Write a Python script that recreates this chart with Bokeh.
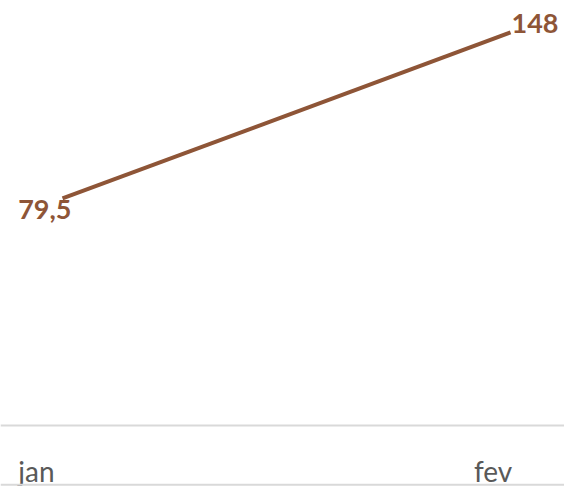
from bokeh.plotting import figure
from bokeh.models import ColumnDataSource, Range1d, Span
from bokeh.core.properties import value
from bokeh.embed import file_html
from bokeh.resources import INLINE

# data
months = ["jan", "fev"]
values = [79.5, 148]
value_labels = ["79,5", "148"]

xs = list(range(len(months)))

W, H = 564, 486
p = figure(width=W, height=H, output_backend="svg", toolbar_location=None,
           x_range=Range1d(-0.1384, 1.1205), y_range=Range1d(-39.35, 161.2),
           min_border=0, min_border_left=0, min_border_right=0,
           min_border_top=0, min_border_bottom=0)
p.axis.visible = False
p.grid.visible = False
p.outline_line_color = None
p.background_fill_color = "white"
p.border_fill_color = "white"

# axis line and bottom border
p.add_layout(Span(location=-14.2, dimension="width", line_color="#D9D9D9", line_width=2))
p.add_layout(Span(location=-38.6, dimension="width", line_color="#D9D9D9", line_width=2))

color = "#8E5537"
src = ColumnDataSource(dict(x=xs, y=values, lab=value_labels,
                            align=["right", "left"], xo=[9, 1], yo=[11, -9],
                            month=months, mxo=[-26, -17.5]))
p.line("x", "y", source=src, line_color=color, line_width=4)

p.text("x", "y", text="lab", source=src, text_align="align", x_offset="xo", y_offset="yo",
       text_baseline="alphabetic", text_color=color,
       text_font=value("Lato"), text_font_style="bold", text_font_size="27px")

p.text("x", -37.3, text="month", source=src, text_align="center", x_offset="mxo",
       y_offset=-11, text_baseline="alphabetic", text_color="#595959",
       text_font=value("Lato"), text_font_size="28px")

open("out.html", "w").write(file_html(p, INLINE))
